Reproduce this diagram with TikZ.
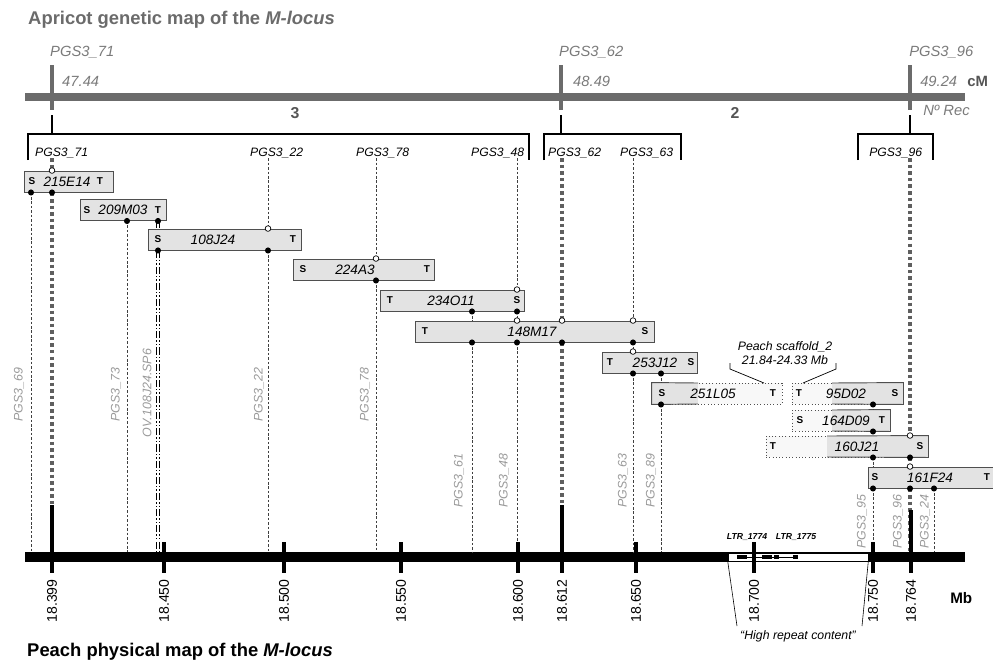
\documentclass[tikz,border=0pt]{standalone}
\usepackage{fontspec}
\setmainfont{Liberation Sans}
\usepackage{xcolor}
\usepackage{tikz}
\usetikzlibrary{positioning}

\definecolor{titlegray}{HTML}{6B6B6B}
\definecolor{bargray}{HTML}{6B6B6B}
\definecolor{labgray}{HTML}{7A7A7A}
\definecolor{numgray}{HTML}{555555}
\definecolor{rotgray}{HTML}{9A9A9A}
\definecolor{bacfill}{HTML}{E3E3E3}
\definecolor{bacline}{HTML}{4F4F4F}
\definecolor{dotgray}{HTML}{5F5F5F}

\begin{document}
\begin{tikzpicture}[x=0.03cm, y=-0.03cm,
        bac/.style={rectangle, draw=bacline, fill=bacfill, line width=0.8pt, minimum height=0.63cm, inner sep=0pt},
        pbac/.style={bac, fill=bacfill!25, dotted},
        bname/.style={font=\itshape\fontsize{11.6}{13}\selectfont, inner sep=0pt},
        sth/.style={font=\bfseries\fontsize{8.5}{10}\selectfont, inner sep=0pt},
        mk/.style={font=\itshape\fontsize{10.4}{12}\selectfont, anchor=west, inner sep=0pt},
        glab/.style={font=\itshape\fontsize{12.6}{14}\selectfont, text=labgray, anchor=west, inner sep=0pt},
        vlab/.style={font=\itshape\fontsize{10.6}{12}\selectfont, text=rotgray, rotate=90, inner sep=0pt},
        mbval/.style={font=\fontsize{12}{14}\selectfont, rotate=90, inner sep=0pt},
        gapline/.style={draw=black!75, line width=0.7pt, dash pattern=on 2.2pt off 1.6pt},
        pinline/.style={draw=dotgray, line width=3.4pt, dash pattern=on 3pt off 2.6pt},
        ovline/.style={draw=black, line width=0.9pt, double=white, double distance=1.4pt, dash pattern=on 6pt off 1.8pt on 1.2pt off 1.8pt on 1.2pt off 1.8pt},
        tickln/.style={line width=3.8pt},
        bracket/.style={line width=1.7pt},
        hitdot/.style={fill=black},
        opendot/.style={draw=black, fill=white, line width=0.6pt}
    ]
        \useasboundingbox (0,0) rectangle (993,661);

        % Apricot genetic map
        \node[anchor=west, inner sep=0pt, text=titlegray, font=\bfseries\fontsize{15.7}{17}\selectfont] (atitle) at (28,20) {Apricot genetic map of the \textit{M-locus}};
        \node[fill=bargray, minimum width=28.2cm, minimum height=0.24cm, inner sep=0pt] (apricot) at (495,96.5) {};
        \draw[bargray, line width=3.4pt] (52,65) -- (52,110);
        \draw[bargray, line width=3.4pt] (561,65) -- (561,110);
        \draw[bargray, line width=3.4pt] (910,65) -- (910,110);

        \node[glab] (g71) at (50,52) {PGS3\_71};
        \node[glab] (g62) at (559,52) {PGS3\_62};
        \node[glab] (g96) at (909,52) {PGS3\_96};
        \node[glab] (c71) at (62,81) {47.44};
        \node[glab] (c62) at (573,81) {48.49};
        \node[glab] (c96) at (920,81) {49.24};
        \node[anchor=west, inner sep=0pt, text=numgray, font=\bfseries\fontsize{12.7}{14}\selectfont] (cm) at (967,81) {cM};
        \node[glab] (rec) at (923,110) {Nº Rec};
        \node[text=numgray, font=\bfseries\fontsize{13.5}{15}\selectfont] (r3) at (295,113) {3};
        \node[text=numgray, font=\bfseries\fontsize{13.5}{15}\selectfont] (r2) at (735,113) {2};

        % Brackets
        \draw[bracket] (52,115) -- (52,134);
        \draw[bracket] (28,160) -- (28,134) -- (529,134) -- (529,160);
        \draw[bracket] (561,115) -- (561,134);
        \draw[bracket] (544,160) -- (544,134) -- (681,134) -- (681,160);
        \draw[bracket] (910,115) -- (910,134);
        \draw[bracket] (858,160) -- (858,134) -- (933,134) -- (933,160);

        \node[mk] (k71) at (35,153) {PGS3\_71};
        \node[mk] (k22) at (250,153) {PGS3\_22};
        \node[mk] (k78) at (356,153) {PGS3\_78};
        \node[mk] (k48) at (471,153) {PGS3\_48};
        \node[mk] (k62) at (548,153) {PGS3\_62};
        \node[mk] (k63) at (620,153) {PGS3\_63};
        \node[mk] (k96) at (869,153) {PGS3\_96};

        % Marker positions
        \coordinate (x69) at (31,0);
        \coordinate (x71) at (52,0);
        \coordinate (x73) at (127,0);
        \coordinate (xov) at (158,0);
        \coordinate (x22) at (268,0);
        \coordinate (x78) at (376,0);
        \coordinate (x61) at (472,0);
        \coordinate (x48) at (517,0);
        \coordinate (x62) at (562,0);
        \coordinate (x63) at (633,0);
        \coordinate (x89) at (661,0);
        \coordinate (x95) at (873,0);
        \coordinate (x96) at (910,0);
        \coordinate (x24) at (934,0);

        % BAC clones
        \node[bac, minimum width=2.67cm] (b215) at (68.5,181.5) {};
        \node[bac, minimum width=2.58cm] (b209) at (123,210) {};
        \node[bac, minimum width=4.59cm] (b108) at (224.5,239.5) {};
        \node[bac, minimum width=4.23cm] (b224) at (363.5,269.5) {};
        \node[bac, minimum width=4.32cm] (b234) at (452,300.5) {};
        \node[bac, minimum width=7.17cm] (b148) at (534.5,331.5) {};
        \node[bac, minimum width=2.85cm] (b253) at (649.5,362.5) {};
        \node[pbac, minimum width=3.9cm] (b251) at (717,393.5) {};
        \node[pbac, minimum width=3.33cm] (b95) at (847.5,393.5) {};
        \node[pbac, minimum width=2.94cm] (b164) at (841,420.5) {};
        \node[pbac, minimum width=4.86cm] (b160) at (847,446.5) {};
        \node[bac, minimum width=3.96cm] (b161) at (934,477.5) {};

        % mapped parts of the partial clones
        \fill[bacfill] (b251.north west) rectangle (698,404);
        \draw[bacline, line width=0.8pt] (698,383) -- (b251.north west) -- (b251.south west) -- (698,404);
        \fill[bacfill] (832,383) rectangle (b95.south east);
        \draw[bacline, line width=0.8pt] (832,383) -- (b95.north east) -- (b95.south east) -- (832,404);
        \fill[bacfill] (832,410) rectangle (b164.south east);
        \draw[bacline, line width=0.8pt] (832,410) -- (b164.north east) -- (b164.south east) -- (832,431);
        \fill[bacfill] (827,436) rectangle (b160.south east);
        \draw[bacline, line width=0.8pt] (827,436) -- (b160.north east) -- (b160.south east) -- (827,457);

        \node[sth] (s215) at (32,181.5) {S};
        \node[bname] (n215) at (67,181.5) {215E14};
        \node[sth] (t215) at (100,181.5) {T};
        \node[sth] (s209) at (87,210) {S};
        \node[bname] (n209) at (123,210) {209M03};
        \node[sth] (t209) at (158,210) {T};
        \node[sth] (s108) at (158,239.5) {S};
        \node[bname] (n108) at (213,239.5) {108J24};
        \node[sth] (t108) at (293,239.5) {T};
        \node[sth] (s224) at (303,269.5) {S};
        \node[bname] (n224) at (355,269.5) {224A3};
        \node[sth] (t224) at (427,269.5) {T};
        \node[sth] (t234) at (390,300.5) {T};
        \node[bname] (n234) at (451,300.5) {234O11};
        \node[sth] (s234) at (517,300.5) {S};
        \node[sth] (t148) at (425,331.5) {T};
        \node[bname] (n148) at (532,331.5) {148M17};
        \node[sth] (s148) at (645,331.5) {S};
        \node[sth] (t253) at (610,362.5) {T};
        \node[bname] (n253) at (655,362.5) {253J12};
        \node[sth] (s253) at (691,362.5) {S};
        \node[sth] (s251) at (662,393.5) {S};
        \node[bname] (n251) at (713,393.5) {251L05};
        \node[sth] (t251) at (773,393.5) {T};
        \node[sth] (t95) at (799,393.5) {T};
        \node[bname] (n95) at (846,393.5) {95D02};
        \node[sth] (s95) at (895,393.5) {S};
        \node[sth] (s164) at (800,420.5) {S};
        \node[bname] (n164) at (846,420.5) {164D09};
        \node[sth] (t164) at (882,420.5) {T};
        \node[sth] (t160) at (773,446.5) {T};
        \node[bname] (n160) at (857,446.5) {160J21};
        \node[sth] (s160) at (920,446.5) {S};
        \node[sth] (s161) at (875,477.5) {S};
        \node[bname] (n161) at (930,477.5) {161F24};
        \node[sth] (t161) at (987,477.5) {T};

        % Peach scaffold note
        \node[font=\itshape\fontsize{10.5}{12}\selectfont, align=center, inner sep=0pt] (scaf) at (785,353) {Peach scaffold\_2\\21.84-24.33 Mb};
        \draw[line width=0.6pt] (730,363) -- (730,369) -- (764,383);
        \draw[line width=0.6pt] (836,363) -- (836,369) -- (803,383);

        % Peach physical map
        \node[fill=black, minimum width=28.2cm, minimum height=0.3cm, inner sep=0pt] (peach) at (495,557) {};

        % Lines from the genetic map to the clones
        \draw[pinline] (x71 |- k71.south) -- (x71 |- b215.north);
        \draw[gapline] (x22 |- k22.south) -- (x22 |- b108.north);
        \draw[gapline] (x78 |- k78.south) -- (x78 |- b224.north);
        \draw[gapline] (x48 |- k48.south) -- (x48 |- b234.north);
        \draw[pinline] (x62 |- k62.south) -- (x62 |- b148.north);
        \draw[gapline] (x63 |- k63.south) -- (x63 |- b148.north);
        \draw[pinline] (x96 |- k96.south) -- (x96 |- b160.north);

        % Lines from the clones to the physical map
        \draw[gapline] (x69 |- b215.south) -- (x69 |- peach.north);
        \draw[pinline] (x71 |- b215.south) -- (x71 |- peach.north);
        \draw[gapline] (x73 |- b209.south) -- (x73 |- peach.north);
        \draw[ovline] (xov |- b209.south) -- (xov |- b108.north);
        \draw[ovline] (xov |- b108.south) -- (xov |- peach.north);
        \draw[gapline] (x22 |- b108.south) -- (x22 |- peach.north);
        \draw[gapline] (x78 |- b224.south) -- (x78 |- peach.north);
        \draw[gapline] (x61 |- b234.south) -- (x61 |- b148.north);
        \draw[gapline] (x61 |- b148.south) -- (x61 |- peach.north);
        \draw[gapline] (x48 |- b234.south) -- (x48 |- b148.north);
        \draw[gapline] (x48 |- b148.south) -- (x48 |- peach.north);
        \draw[pinline] (x62 |- b148.south) -- (x62 |- peach.north);
        \draw[gapline] (x63 |- b148.south) -- (x63 |- b253.north);
        \draw[gapline] (x63 |- b253.south) -- (x63 |- peach.north);
        \draw[gapline] (x89 |- b253.south) -- (x89 |- b251.north);
        \draw[gapline] (x89 |- b251.south) -- (x89 |- peach.north);
        \draw[gapline] (x95 |- b95.south) -- (x95 |- b164.north);
        \draw[gapline] (x95 |- b164.south) -- (x95 |- b160.north);
        \draw[gapline] (x95 |- b160.south) -- (x95 |- b161.north);
        \draw[gapline] (x95 |- b161.south) -- (x95 |- peach.north);
        \draw[pinline] (x96 |- b160.south) -- (x96 |- b161.north);
        \draw[pinline] (x96 |- b161.south) -- (x96 |- peach.north);
        \draw[gapline] (x24 |- b161.south) -- (x24 |- peach.north);

        % Markers on the clones
        \draw[opendot] (x71 |- b215.north) circle (2.4pt);
        \fill[hitdot] (x69 |- b215.south) circle (2.6pt);
        \fill[hitdot] (x71 |- b215.south) circle (2.6pt);
        \fill[hitdot] (x73 |- b209.south) circle (2.6pt);
        \fill[hitdot] (xov |- b209.south) circle (2.6pt);
        \draw[opendot] (x22 |- b108.north) circle (2.4pt);
        \fill[hitdot] (xov |- b108.south) circle (2.6pt);
        \fill[hitdot] (x22 |- b108.south) circle (2.6pt);
        \draw[opendot] (x78 |- b224.north) circle (2.4pt);
        \fill[hitdot] (x78 |- b224.south) circle (2.6pt);
        \draw[opendot] (x48 |- b234.north) circle (2.4pt);
        \fill[hitdot] (x61 |- b234.south) circle (2.6pt);
        \fill[hitdot] (x48 |- b234.south) circle (2.6pt);
        \draw[opendot] (x48 |- b148.north) circle (2.4pt);
        \draw[opendot] (x62 |- b148.north) circle (2.4pt);
        \draw[opendot] (x63 |- b148.north) circle (2.4pt);
        \fill[hitdot] (x61 |- b148.south) circle (2.6pt);
        \fill[hitdot] (x48 |- b148.south) circle (2.6pt);
        \fill[hitdot] (x62 |- b148.south) circle (2.6pt);
        \fill[hitdot] (x63 |- b148.south) circle (2.6pt);
        \draw[opendot] (x63 |- b253.north) circle (2.4pt);
        \fill[hitdot] (x63 |- b253.south) circle (2.6pt);
        \fill[hitdot] (x89 |- b253.south) circle (2.6pt);
        \fill[hitdot] (x89 |- b251.south) circle (2.6pt);
        \fill[hitdot] (x95 |- b95.south) circle (2.6pt);
        \fill[hitdot] (x95 |- b164.south) circle (2.6pt);
        \draw[opendot] (x96 |- b160.north) circle (2.4pt);
        \fill[hitdot] (x95 |- b160.south) circle (2.6pt);
        \fill[hitdot] (x96 |- b160.south) circle (2.6pt);
        \draw[opendot] (x96 |- b161.north) circle (2.4pt);
        \fill[hitdot] (x95 |- b161.south) circle (2.6pt);
        \fill[hitdot] (x96 |- b161.south) circle (2.6pt);
        \fill[hitdot] (x24 |- b161.south) circle (2.6pt);

        % Marker names along the physical map
        \node[vlab] (l69) at (19,395) {PGS3\_69};
        \node[vlab] (l73) at (116,395) {PGS3\_73};
        \node[vlab] (lov) at (147,393) {OV.108J24.SP6};
        \node[vlab] (l22) at (259,395) {PGS3\_22};
        \node[vlab] (l78) at (365,395) {PGS3\_78};
        \node[vlab] (l61) at (459,481) {PGS3\_61};
        \node[vlab] (l48) at (504,481) {PGS3\_48};
        \node[vlab] (l63) at (623,481) {PGS3\_63};
        \node[vlab] (l89) at (651,481) {PGS3\_89};
        \node[vlab] (l95) at (862,522) {PGS3\_95};
        \node[vlab] (l96) at (898,522) {PGS3\_96};
        \node[vlab] (l24) at (925,522) {PGS3\_24};

        % High repeat content
        \node[draw=black, fill=white, line width=0.5pt, minimum width=4.2cm, minimum height=0.24cm, inner sep=0pt] (rep) at (798,557) {};
        \draw[line width=0.4pt] (737,557) -- (798,557);
        \draw[line width=3.4pt] (737,557) -- (747,557);
        \draw[line width=3.4pt] (762,557) -- (772,557);
        \draw[line width=3.4pt] (774,557) -- (779,557);
        \draw[line width=3.4pt] (793,557) -- (798,557);
        \node[font=\bfseries\itshape\fontsize{7.4}{8}\selectfont, inner sep=0pt] (ltr74) at (747,537) {LTR\_1774};
        \node[font=\bfseries\itshape\fontsize{7.4}{8}\selectfont, inner sep=0pt] (ltr75) at (796,537) {LTR\_1775};
        \node[font=\itshape\fontsize{10.5}{12}\selectfont, inner sep=0pt] (hrc) at (798,636) {“High repeat content”};
        \draw[line width=0.5pt] (rep.south west) -- (737,626);
        \draw[line width=0.5pt] (rep.south east) -- (862,626);

        % Ticks
        \draw[tickln] (52,505) -- (52,573);
        \draw[tickln] (164,542) -- (164,573);
        \draw[tickln] (284,542) -- (284,573);
        \draw[tickln] (401,542) -- (401,573);
        \draw[tickln] (518,542) -- (518,573);
        \draw[tickln] (562,505) -- (562,573);
        \draw[tickln] (636,542) -- (636,573);
        \draw[tickln] (754,542) -- (754,573);
        \draw[tickln] (873,542) -- (873,573);
        \draw[tickln] (911,510) -- (911,573);

        \node[mbval] (v399) at (52,601) {18.399};
        \node[mbval] (v450) at (164,601) {18.450};
        \node[mbval] (v500) at (284,601) {18.500};
        \node[mbval] (v550) at (401,601) {18.550};
        \node[mbval] (v600) at (518,601) {18.600};
        \node[mbval] (v612) at (562,601) {18.612};
        \node[mbval] (v650) at (636,601) {18.650};
        \node[mbval] (v700) at (754,601) {18.700};
        \node[mbval] (v750) at (873,601) {18.750};
        \node[mbval] (v764) at (911,601) {18.764};
        \node[anchor=west, inner sep=0pt, font=\bfseries\fontsize{13}{15}\selectfont] (mb) at (950,598) {Mb};

        \node[anchor=west, inner sep=0pt, font=\bfseries\fontsize{15.7}{17}\selectfont] (ptitle) at (27,652) {Peach physical map of the \textit{M-locus}};
    \end{tikzpicture}
\end{document}
